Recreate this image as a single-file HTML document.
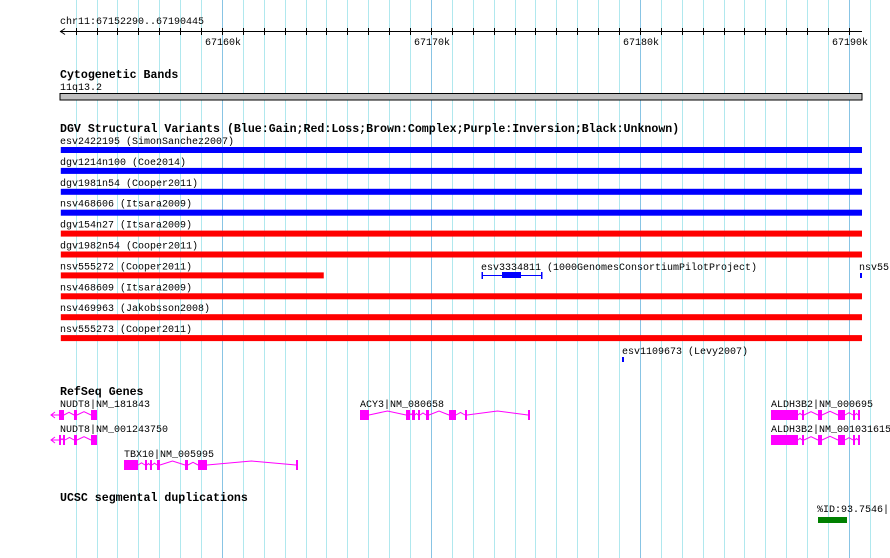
<!DOCTYPE html>
<html><head><meta charset="utf-8"><style>
html,body{margin:0;padding:0;background:#fff;width:890px;height:558px;overflow:hidden}
svg text{font-family:"Liberation Mono","DejaVu Sans Mono",monospace;font-size:10px;fill:#000}
svg text.t{font-weight:bold;font-size:11.6px}
</style></head><body>
<svg id="c" width="890" height="558" xmlns="http://www.w3.org/2000/svg">
<g id="grid"></g>
<g id="ruler"></g>
<g>
<text class="t" x="60" y="78">Cytogenetic Bands</text>
<text x="60" y="90">11q13.2</text>
<rect x="60" y="93.5" width="802" height="6.5" fill="#c0c0c0" stroke="#000" stroke-width="1"/>
</g>
<text class="t" x="60" y="132">DGV Structural Variants (Blue:Gain;Red:Loss;Brown:Complex;Purple:Inversion;Black:Unknown)</text>
<g id="dgv"></g>
<text class="t" x="60" y="395">RefSeq Genes</text>
<g id="genes"></g>
<text class="t" x="60" y="501">UCSC segmental duplications</text>
<text x="817" y="512">%ID:93.7546|</text>
<rect x="818" y="517" width="29" height="6" fill="#008000"/>
</svg>
<script>
const startBp=67152290, endBp=67190445;
const tickLabels=["67160k","67170k","67180k","67190k"];
const svLabels=["esv2422195 (SimonSanchez2007)","dgv1214n100 (Coe2014)","dgv1981n54 (Cooper2011)","nsv468606 (Itsara2009)","dgv154n27 (Itsara2009)","dgv1982n54 (Cooper2011)","nsv555272 (Cooper2011)","nsv468609 (Itsara2009)","nsv469963 (Jakobsson2008)","nsv555273 (Cooper2011)"];
const svStart=[67152290,67152290,67152290,67152290,67152290,67152290,67152290,67152290,67152290,67152290];
const svEnd=[67190445,67190445,67190445,67190445,67190445,67190445,67164680,67190445,67190445,67190445];
const svType=["gain","gain","gain","gain","loss","loss","loss","loss","loss","loss"];
const S=67152290;
const px0=60.8, pxPerBp=0.0209;
function X(bp){return px0+(bp-S)*pxPerBp;}
const NS="http://www.w3.org/2000/svg";
function mk(tag,at,parent){const e=document.createElementNS(NS,tag);for(const k in at)e.setAttribute(k,at[k]);parent.appendChild(e);return e;}
const svg=document.getElementById('c');
const grid=document.getElementById('grid');
for(let bp=67153000;bp<=67191000;bp+=1000){
  const x=Math.round(X(bp))+0.5; if(x>889)break;
  const major=bp%10000===0;
  const l=mk('line',{x1:x,x2:x,y1:0,y2:558,stroke:major?'#88c4e4':'#b0e8ee','stroke-width':1},grid);
  
  
}
const ruler=document.getElementById('ruler');
let t=mk('text',{x:60,y:24},ruler);t.textContent='chr11:67152290..67190445';


mk('line',{x1:60,x2:862,y1:31.5,y2:31.5,stroke:'#000'},ruler);
mk('path',{d:'M65,28.5 L60.5,31.5 L65,34.5',fill:'none',stroke:'#000'},ruler);
for(let bp=67153000;bp<=67190000;bp+=1000){const x=Math.round(X(bp))+0.5;mk('line',{x1:x,x2:x,y1:28,y2:35,stroke:'#000'},ruler);}
tickLabels.forEach(s=>{const bp=parseInt(s)*1000;const x=X(bp);const e=mk('text',{x:x-17,y:45},ruler);e.textContent=s;
 
 });
const dgv=document.getElementById('dgv');
svLabels.forEach((lab,i)=>{
  const top=147+i*20.9;
  const e=mk('text',{x:60,y:top-3},dgv);e.textContent=lab;
  
  
  const x1=Math.max(60,X(svStart[i])),x2=Math.min(862,X(svEnd[i])+4);
  const r=mk('rect',{x:x1,y:top,width:x2-x1,height:6,fill:svType[i]==='gain'?'#0000ff':'#ff0000'},dgv);
  
  
});
let e=mk('text',{x:481,y:270},dgv);e.textContent='esv3334811 (1000GenomesConsortiumPilotProject)';


mk('line',{x1:482,x2:542,y1:275.5,y2:275.5,stroke:'#0000ff'},dgv);
mk('rect',{x:481.5,y:272,width:1.5,height:7,fill:'#0000ff'},dgv);
mk('rect',{x:541,y:272,width:1.5,height:7,fill:'#0000ff'},dgv);
e=mk('rect',{x:502,y:272,width:19,height:6,fill:'#0000ff'},dgv);


e=mk('text',{x:859,y:270},dgv);e.textContent='nsv55';


mk('rect',{x:860,y:273,width:2,height:5,fill:'#0000ff'},dgv);
e=mk('text',{x:622,y:354},dgv);e.textContent='esv1109673 (Levy2007)';


mk('rect',{x:622,y:357,width:2,height:5,fill:'#0000ff'},dgv);
const genes=[
 {n:'NUDT8|NM_181843',lx:60,y:410,arrow:51,ex:[[59,64],[74,77],[91,97]]},
 {n:'NUDT8|NM_001243750',lx:60,y:435,arrow:51,ex:[[59,61],[63,65],[74,77],[91,97]]},
 {n:'TBX10|NM_005995',lx:124,y:460,ex:[[124,138],[145,147],[150,152],[157,160],[185,188],[198,207],[296,298]]},
 {n:'ACY3|NM_080658',lx:360,y:410,ex:[[360,369],[406,410],[412,415],[418,420],[426,429],[449,456],[465,467],[528,530]]},
 {n:'ALDH3B2|NM_000695',lx:771,y:410,ex:[[771,798],[802,804],[818,822],[838,845],[853,855],[858,860]]},
 {n:'ALDH3B2|NM_001031615',lx:771,y:435,ex:[[771,798],[802,804],[818,822],[838,845],[853,855],[858,860]]}
];
const G=document.getElementById('genes');
genes.forEach(g=>{
  const tx=mk('text',{x:g.lx,y:g.y-3},G);tx.textContent=g.n;
  
  
  const mid=g.y+5;
  if(g.arrow){mk('path',{d:`M${g.arrow+4},${mid-3} L${g.arrow},${mid} L${g.arrow+4},${mid+3} M${g.arrow},${mid} L${g.ex[0][0]},${mid}`,fill:'none',stroke:'#ff00ff'},G);}
  for(let i=0;i<g.ex.length-1;i++){
    const a=g.ex[i][1],b=g.ex[i+1][0];if(b-a<2)continue;
    const h=Math.min(4,(b-a)/6+1);
    mk('polyline',{points:`${a},${mid} ${(a+b)/2},${mid-h} ${b},${mid}`,fill:'none',stroke:'#ff00ff'},G);
  }
  g.ex.forEach(ex=>{const r=mk('rect',{x:ex[0],y:g.y,width:ex[1]-ex[0],height:10,fill:'#ff00ff'},G);
    
    });
});
</script>
</body></html>
